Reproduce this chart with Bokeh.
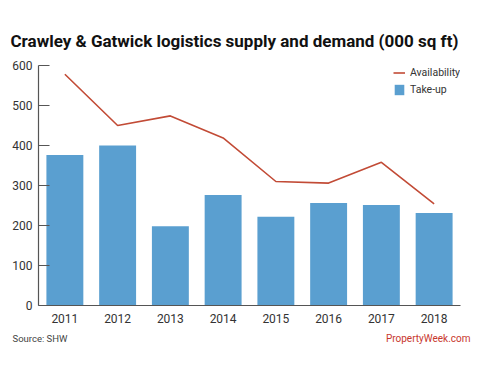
from bokeh.plotting import figure
from bokeh.models import Legend, LegendItem, FixedTicker, Range1d, FactorRange, Title
from bokeh.embed import file_html
from bokeh.resources import INLINE

years = ["2011", "2012", "2013", "2014", "2015", "2016", "2017", "2018"]
take_up = [376, 400, 198, 276, 222, 256, 251, 231]
availability = [578, 450, 474, 419, 310, 306, 358, 254]
y_ticks = [0, 100, 200, 300, 400, 500, 600]

FONT = "Roboto"
BAR = "#5a9fd0"
LINE = "#c24b36"

p = figure(width=484, height=360, x_range=FactorRange(*years, range_padding=0),
           y_range=Range1d(0, 600), output_backend="svg", toolbar_location=None,
           min_border_left=38, min_border_right=24, min_border_top=65, min_border_bottom=55)
p.outline_line_color = None
p.xgrid.grid_line_color = None
p.ygrid.grid_line_color = None
p.background_fill_color = "white"
p.border_fill_color = "white"

bars = p.vbar(x=years, top=take_up, width=0.7, fill_color=BAR, line_color=None)
line = p.line(x=years, y=availability, line_color=LINE, line_width=1.6)

p.yaxis.ticker = FixedTicker(ticks=y_ticks)
for ax in (p.xaxis[0], p.yaxis[0]):
    ax.axis_line_color = "#555555"
    ax.axis_line_width = 1.2
    ax.major_label_text_font = FONT
    ax.major_label_text_font_size = "12px"
    ax.major_label_text_color = "#333333"
    ax.minor_tick_line_color = None
p.yaxis.major_tick_in = 11
p.yaxis.major_tick_out = 0
p.yaxis.major_tick_line_color = "#555555"
p.yaxis.major_tick_line_width = 1.2
p.yaxis.major_label_standoff = 6
p.xaxis.major_tick_line_color = None
p.xaxis.major_label_standoff = 2

legend = Legend(items=[LegendItem(label="Availability", renderers=[line]),
                       LegendItem(label="Take-up", renderers=[bars])],
                location=(355, 209), orientation="vertical",
                background_fill_alpha=0, border_line_color=None,
                padding=0, margin=0, spacing=4, glyph_width=12, glyph_height=13,
                label_standoff=5, label_text_font=FONT, label_text_font_size="10.5px",
                label_text_color="#333333", label_height=13)
p.add_layout(legend)

p.add_layout(Title(text="Crawley & Gatwick logistics supply and demand (000 sq ft)",
                   align="left", offset=-28, standoff=29,
                   text_font=FONT, text_font_size="17px", text_font_style="bold",
                   text_color="#111111"), "above")
p.add_layout(Title(text="Source: SHW", align="left", offset=-26, standoff=14,
                   vertical_align="top", text_font=FONT, text_font_size="9.5px",
                   text_font_style="normal", text_color="#444444"), "below")
p.add_layout(Title(text="PropertyWeek.com", align="right", offset=-10, standoff=-40,
                   vertical_align="top", text_font=FONT, text_font_size="10px",
                   text_font_style="normal", text_color="#c8372d"), "below")

open("out.html", "w").write(file_html(p, INLINE))
